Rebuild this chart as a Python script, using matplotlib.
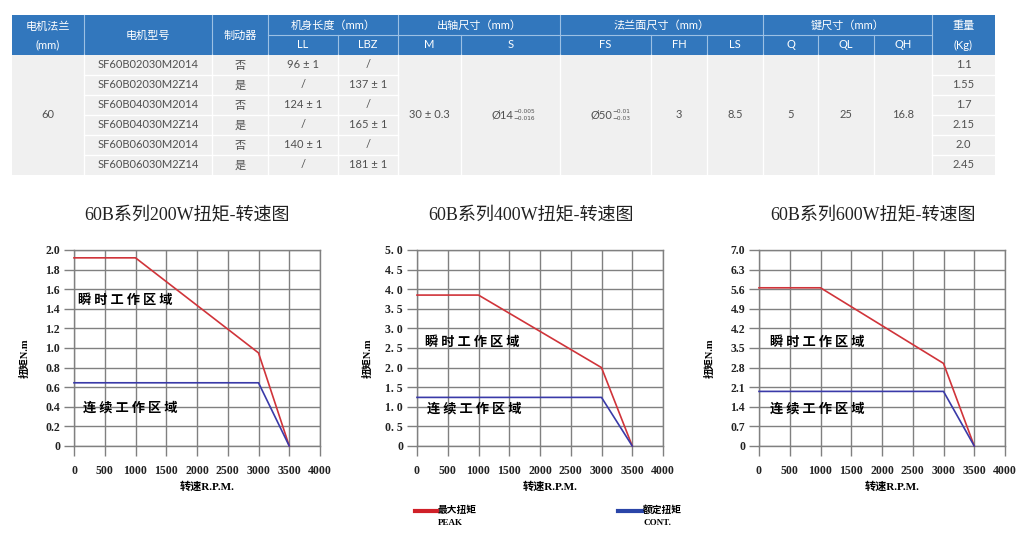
import numpy as np
import matplotlib.pyplot as plt
from matplotlib.patches import Rectangle

# ---------------- datos de la tabla ----------------
models = ['SF60B02030M2014', 'SF60B02030M2Z14', 'SF60B04030M2014',
          'SF60B04030M2Z14', 'SF60B06030M2014', 'SF60B06030M2Z14']
brake = ['否', '是', '否', '是', '否', '是']
ll = ['96 ± 1', '/', '124 ± 1', '/', '140 ± 1', '/']
lbz = ['/', '137 ± 1', '/', '165 ± 1', '/', '181 ± 1']
weight = ['1.1', '1.55', '1.7', '2.15', '2.0', '2.45']
flange = '60'
shaft_m = '30 ± 0.3'
shaft_s = ('Ø14', '−0.005', '−0.016')
face_fs = ('Ø50', '−0.01', '−0.03')
face_fh = '3'
face_ls = '8.5'
key_q = '5'
key_ql = '25'
key_qh = '16.8'

groups = ['机身长度（mm）', '出轴尺寸（mm）', '法兰面尺寸（mm）', '键尺寸（mm）']
subheads = ['LL', 'LBZ', 'M', 'S', 'FS', 'FH', 'LS', 'Q', 'QL', 'QH']

# ---------------- datos de las curvas ----------------
speed_peak = [0, 1000, 3000, 3500]
speed_cont = [0, 3000, 3500]
peak_200 = [1.92, 1.92, 0.95, 0]
cont_200 = [0.645, 0.645, 0]
peak_400 = [3.85, 3.85, 2.0, 0]
cont_400 = [1.24, 1.24, 0]
peak_600 = [5.65, 5.65, 2.95, 0]
cont_600 = [1.95, 1.95, 0]

x_ticks = [0, 500, 1000, 1500, 2000, 2500, 3000, 3500, 4000]
y_ticks_200 = [0, 0.2, 0.4, 0.6, 0.8, 1.0, 1.2, 1.4, 1.6, 1.8, 2.0]
y_lab_200 = ['0', '0.2', '0.4', '0.6', '0.8', '1.0', '1.2', '1.4', '1.6', '1.8', '2.0']
y_ticks_400 = [0, 0.5, 1.0, 1.5, 2.0, 2.5, 3.0, 3.5, 4.0, 4.5, 5.0]
y_lab_400 = ['0', '0. 5', '1. 0', '1. 5', '2. 0', '2. 5', '3. 0', '3. 5', '4. 0', '4. 5', '5. 0']
y_ticks_600 = [0, 0.7, 1.4, 2.1, 2.8, 3.5, 4.2, 4.9, 5.6, 6.3, 7.0]
y_lab_600 = ['0', '0.7', '1.4', '2.1', '2.8', '3.5', '4.2', '4.9', '5.6', '6.3', '7.0']

titles = ['60B系列200W扭矩-转速图', '60B系列400W扭矩-转速图', '60B系列600W扭矩-转速图']

# colores
HEAD = '#3277bd'
BODY = '#f0f0f0'
RED = '#d0343a'
BLUE = '#3a3aa8'
GRIDC = '#808080'

SANS = ['Lato', 'Noto Sans CJK SC']
SERIF = ['Liberation Serif', 'Noto Sans CJK SC']

W, H = 1024, 545
fig = plt.figure(figsize=(W / 100, H / 100), dpi=100)

# ================= tabla (coordenadas en pixeles) =================
tax = fig.add_axes([0, 0, 1, 1])
tax.set_xlim(0, W)
tax.set_ylim(H, 0)
tax.axis('off')

cx = [12, 84, 212, 268, 338, 398, 461, 560, 651, 707, 763, 818, 874, 932, 995]
y0, y1, y2 = 15, 35, 55
row_h = 20
nrow = len(models)
yb = y2 + nrow * row_h

def mid(a, b):
    return (a + b) / 2

tax.add_patch(Rectangle((cx[0], y0), cx[-1] - cx[0], y2 - y0, color=HEAD, lw=0))
tax.add_patch(Rectangle((cx[0], y2), cx[-1] - cx[0], yb - y2, color=BODY, lw=0))

hkw = dict(color='white', fontsize=8, family=SANS, ha='center', va='center')
tax.text(mid(cx[0], cx[1]), 26, '电机法兰', **hkw)
tax.text(mid(cx[0], cx[1]), 45, '(mm)', **hkw)
tax.text(mid(cx[1], cx[2]), mid(y0, y2), '电机型号', **hkw)
tax.text(mid(cx[2], cx[3]), mid(y0, y2), '制动器', **hkw)
tax.text(mid(cx[13], cx[14]), 26, '重量', **hkw)
tax.text(mid(cx[13], cx[14]), 45, '(Kg)', **hkw)

spans = [(3, 5), (5, 7), (7, 10), (10, 13)]
for g, (a, b) in zip(groups, spans):
    tax.text(mid(cx[a], cx[b]), mid(y0, y1), g, **hkw)
    tax.plot([cx[a], cx[b]], [y1, y1], color='#9cc0e4', lw=0.8)
for i, s in enumerate(subheads):
    tax.text(mid(cx[3 + i], cx[4 + i]), mid(y1, y2), s, **hkw)

# separadores de la cabecera
for j in range(1, len(cx) - 1):
    if j in (4, 6, 8, 9, 11, 12):
        tax.plot([cx[j], cx[j]], [y1, y2], color='#9cc0e4', lw=0.8)
    else:
        tax.plot([cx[j], cx[j]], [y0, y2], color='#9cc0e4', lw=0.8)

# separadores del cuerpo
for j in range(1, len(cx) - 1):
    tax.plot([cx[j], cx[j]], [y2, yb], color='white', lw=1.0)
for r in range(1, nrow):
    yy = y2 + r * row_h
    for a, b in [(1, 5), (13, 14)]:
        tax.plot([cx[a], cx[b]], [yy, yy], color='white', lw=1.0)

bkw = dict(color='#505050', fontsize=8, family=SANS, ha='center', va='center')
for r in range(nrow):
    yy = y2 + r * row_h + row_h / 2
    tax.text(mid(cx[1], cx[2]), yy, models[r], **bkw)
    tax.text(mid(cx[2], cx[3]), yy, brake[r], **bkw)
    tax.text(mid(cx[3], cx[4]), yy, ll[r], **bkw)
    tax.text(mid(cx[4], cx[5]), yy, lbz[r], **bkw)
    tax.text(mid(cx[13], cx[14]), yy, weight[r], **bkw)

ym = mid(y2, yb)
tax.text(mid(cx[0], cx[1]), ym, flange, **bkw)
tax.text(mid(cx[5], cx[6]), ym, shaft_m, **bkw)
tax.text(mid(cx[8], cx[9]), ym, face_fh, **bkw)
tax.text(mid(cx[9], cx[10]), ym, face_ls, **bkw)
tax.text(mid(cx[10], cx[11]), ym, key_q, **bkw)
tax.text(mid(cx[11], cx[12]), ym, key_ql, **bkw)
tax.text(mid(cx[12], cx[13]), ym, key_qh, **bkw)

for (base, up, lo), xr in [(shaft_s, 513), (face_fs, 612)]:
    tax.text(xr, ym, base, color='#505050', fontsize=8, family=SANS, ha='right', va='center')
    tax.text(xr + 0.5, ym - 3.5, up, color='#505050', fontsize=4.2, family=['DejaVu Sans'],
             ha='left', va='center')
    tax.text(xr + 0.5, ym + 3.5, lo, color='#505050', fontsize=4.2, family=['DejaVu Sans'],
             ha='left', va='center')

# ================= graficos de par-velocidad =================
charts = [
    (74, peak_200, cont_200, y_ticks_200, y_lab_200, 2.0, 187, (65, 1.49), (150, 0.39)),
    (417, peak_400, cont_400, y_ticks_400, y_lab_400, 5.0, 531, (130, 2.66), (170, 0.96)),
    (759, peak_600, cont_600, y_ticks_600, y_lab_600, 7.0, 873, (180, 3.73), (180, 1.32)),
]
ax_w, ax_top, ax_bot = 246, 250, 446

for k, (left, peak, cont, yt, yl, ymax, tx, lab1, lab2) in enumerate(charts):
    ax = fig.add_axes([left / W, 1 - ax_bot / H, ax_w / W, (ax_bot - ax_top) / H])
    ax.plot(speed_peak, peak, color=RED, lw=1.2, zorder=3, clip_on=False)
    ax.plot(speed_cont, cont, color=BLUE, lw=1.2, zorder=3, clip_on=False)
    ax.set_xlim(0, 4000)
    ax.set_ylim(0, ymax)
    ax.set_xticks(x_ticks)
    ax.set_yticks(yt)
    ax.set_yticklabels(yl)
    ax.grid(True, color=GRIDC, lw=1.0)
    for sp in ax.spines.values():
        sp.set_color(GRIDC)
        sp.set_linewidth(1.0)
    ax.tick_params(axis='both', direction='out', length=7.5, width=1.0, color=GRIDC)
    ax.tick_params(axis='x', pad=6)
    ax.tick_params(axis='y', pad=2.5)
    for t in ax.get_xticklabels() + ax.get_yticklabels():
        t.set_family(SERIF)
        t.set_fontweight('bold')
        t.set_fontsize(8.5)
        t.set_color('#222222')

    ax.text(lab1[0], lab1[1], '瞬 时 工 作 区 域', family=['Noto Sans CJK SC'],
            fontweight='bold', fontsize=9.5, va='center', ha='left', color='black')
    ax.text(lab2[0], lab2[1], '连 续 工 作 区 域', family=['Noto Sans CJK SC'],
            fontweight='bold', fontsize=9.5, va='center', ha='left', color='black')

    fig.text(tx / W, 1 - 216 / H, titles[k], family=SERIF, fontsize=13,
             ha='center', va='center', color='#222222')
    fig.text((left - 49) / W, 1 - 358 / H, '扭矩N.m', family=SERIF, fontweight='bold',
             fontsize=7.5, rotation=90, ha='center', va='center')
    fig.text((left + 133) / W, 1 - 487 / H, '转速R.P.M.', family=SERIF, fontweight='bold',
             fontsize=8, ha='center', va='center')

# ================= leyenda inferior =================
fig.add_artist(plt.Line2D([415 / W, 437 / W], [1 - 511 / H, 1 - 511 / H], color='#d02028', lw=3))
fig.text(438 / W, 1 - 510 / H, '最大扭矩', family=SERIF, fontweight='bold', fontsize=7, va='center')
fig.text(438 / W, 1 - 523 / H, 'PEAK', family=SERIF, fontweight='bold', fontsize=6.5, va='center')
fig.add_artist(plt.Line2D([618 / W, 642 / W], [1 - 511 / H, 1 - 511 / H], color='#2a45a8', lw=3))
fig.text(643 / W, 1 - 510 / H, '额定扭矩', family=SERIF, fontweight='bold', fontsize=7, va='center')
fig.text(643 / W, 1 - 523 / H, 'CONT.', family=SERIF, fontweight='bold', fontsize=6.5, va='center')

fig.savefig('out.png', dpi=100)
